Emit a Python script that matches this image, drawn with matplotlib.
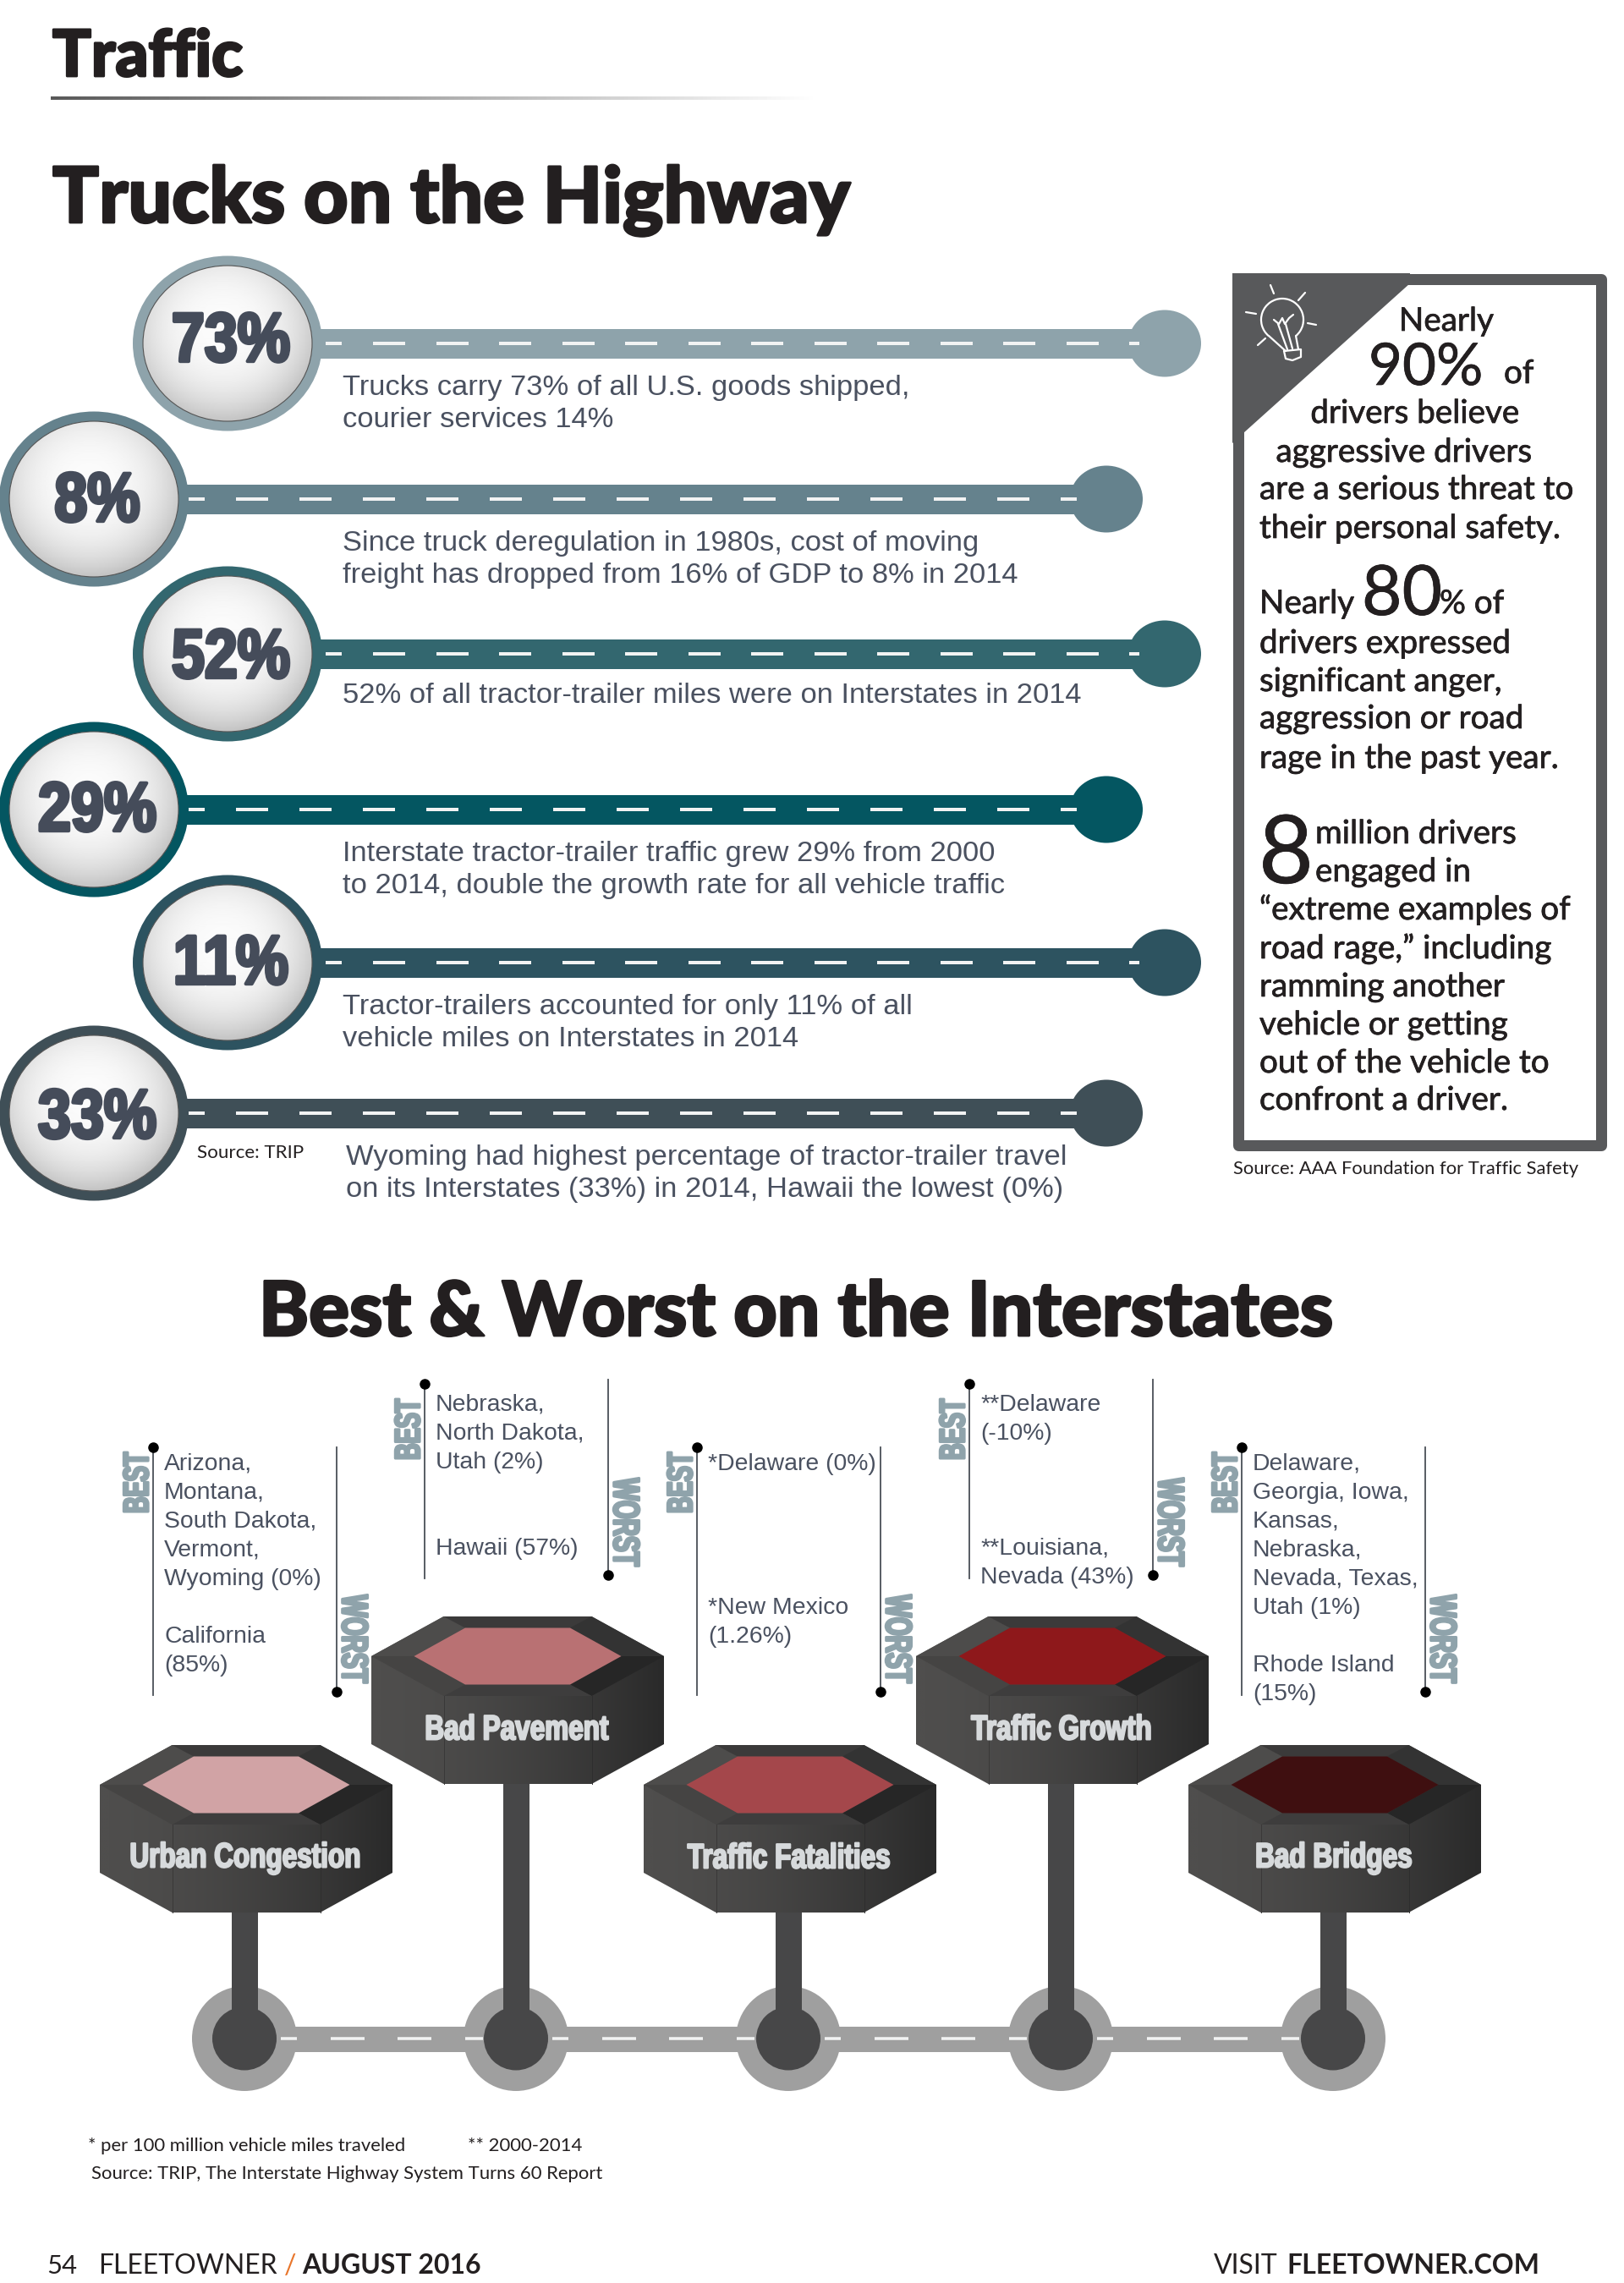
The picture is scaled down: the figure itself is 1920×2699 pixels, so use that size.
"""
    Trucks on the Highway / Best & Worst on the Interstates page
    Everything is laid out in page pixels, y down
"""

import numpy as np
import matplotlib
matplotlib.use('Agg')
import matplotlib.pyplot as plt
import matplotlib.patheffects as pe
from matplotlib.patches import Ellipse, Polygon, Rectangle, Arc
from matplotlib.transforms import Affine2D

ARIAL = 'Liberation Sans'
SIDE = 'Lato'
SLATE = '#4a5160'
STEEL = '#8fa3ab'
INK = '#231f20'

# top section
row_percents = ['73%', '8%', '52%', '29%', '11%', '33%']
row_colors = ['#8ea3ab', '#65828d', '#33676f', '#045661', '#2d5360', '#3f4f57']
row_notes = [
    ['Trucks carry 73% of all U.S. goods shipped,', 'courier services 14%'],
    ['Since truck deregulation in 1980s, cost of moving', 'freight has dropped from 16% of GDP to 8% in 2014'],
    ['52% of all tractor-trailer miles were on Interstates in 2014'],
    ['Interstate tractor-trailer traffic grew 29% from 2000', 'to 2014, double the growth rate for all vehicle traffic'],
    ['Tractor-trailers accounted for only 11% of all', 'vehicle miles on Interstates in 2014'],
    ['Wyoming had highest percentage of tractor-trailer travel', 'on its Interstates (33%) in 2014, Hawaii the lowest (0%)'],
]

# side panel
panel_lines_a = ['are a serious threat to', 'their personal safety.']
panel_lines_b = ['drivers expressed', 'significant anger,', 'aggression or road', 'rage in the past year.']
panel_lines_c = ['\u201cextreme examples of', 'road rage,\u201d including', 'ramming another',
                 'vehicle or getting', 'out of the vehicle to', 'confront a driver.']

# bottom section
hex_labels = ['Urban Congestion', 'Bad Pavement', 'Traffic Fatalities', 'Traffic Growth', 'Bad Bridges']
hex_colors = ['#d1a3a5', '#b97173', '#a4474b', '#8e181b', '#3f0f10']
state_notes = [
    ['Arizona,', 'Montana,', 'South Dakota,', 'Vermont,', 'Wyoming (0%)', '', 'California', '(85%)'],
    ['Nebraska,', 'North Dakota,', 'Utah (2%)', '', '', 'Hawaii (57%)'],
    ['*Delaware (0%)', '', '', '', '', '*New Mexico', '(1.26%)'],
    ['**Delaware', '(-10%)', '', '', '', '**Louisiana,', 'Nevada (43%)'],
    ['Delaware,', 'Georgia, Iowa,', 'Kansas,', 'Nebraska,', 'Nevada, Texas,', 'Utah (1%)', '', 'Rhode Island', '(15%)'],
]

# layout, page pixels
ROW_Y = [406, 590, 773, 957, 1138, 1316]
PCT_DY = [-1, 4, 6, 3, 3, 7]
HEX_X = [291, 612, 934, 1256, 1578]
HEX_Y = [2110, 1958, 2110, 1958, 2110]

fig = plt.figure(figsize=(19.2, 26.99), dpi=100, facecolor='white')
ax = fig.add_axes([0, 0, 1, 1])
ax.set_xlim(0, 1920)
ax.set_ylim(2699, 0)
ax.axis('off')


class Tall(pe.AbstractPathEffect):
    """Stretches a text tall about its middle and thickens it, there is no condensed heavy font here"""

    def __init__(self, sy, stroke, color):
        super().__init__()
        self.sy = sy
        self.stroke = stroke
        self.color = color

    def draw_path(self, renderer, gc, tpath, affine, rgbFace=None):
        ext = tpath.get_extents()
        mid = (ext.y0 + ext.y1) / 2
        local = Affine2D().translate(0, -mid).scale(1, self.sy).translate(0, mid)
        gc0 = renderer.new_gc()
        gc0.copy_properties(gc)
        gc0.set_foreground(self.color)
        gc0.set_linewidth(self.stroke)
        renderer.draw_path(gc0, tpath, local + affine, rgbFace)
        gc0.restore()


def label(x, y, s, px, family=ARIAL, color=SLATE, **kw):
    """y is the baseline unless va is passed, px is the em size in page pixels"""
    kw.setdefault('va', 'baseline')
    return ax.text(x, y, s, fontsize=px * 0.72, family=family, color=color, **kw)


def heavy(t, w, color):
    t.set_path_effects([pe.withStroke(linewidth=w, foreground=color)])


def tall(x, y, s, px, sy, stroke, color, **kw):
    t = label(x, y, s, px, color=color, weight='bold', ha='center', va='center', **kw)
    t.set_path_effects([Tall(sy, stroke, color)])
    return t


def grad_patch(patch, img, extent, cmap=None, z=2):
    ax.add_patch(patch)
    patch.set_zorder(z)
    im = ax.imshow(img, extent=extent, aspect='auto', zorder=z, cmap=cmap, vmin=0, vmax=1,
                   interpolation='bilinear')
    im.set_clip_path(patch)
    ax.set_xlim(0, 1920)
    ax.set_ylim(2699, 0)
    patch.set_facecolor('none')
    patch.set_edgecolor('none')


def lerp_cmap(c0, c1):
    return matplotlib.colors.LinearSegmentedColormap.from_list('g', [c0, c1])


def bubble(cx, cy, color, text, dy):
    ax.add_patch(Ellipse((cx, cy), 224, 207, fc=color, ec='none', zorder=3))
    rx, ry = 100, 92
    u, v = np.meshgrid(np.linspace(-1, 1, 200), np.linspace(-1, 1, 200))
    d = np.hypot(u + 0.05, (v + 0.2) * 0.95)
    img = 0.985 - 0.25 * np.clip(d / 1.2, 0, 1) ** 2.6
    e = Ellipse((cx, cy), 2 * rx, 2 * ry)
    grad_patch(e, img, (cx - rx, cx + rx, cy + ry, cy - ry), cmap='gray', z=4)
    ax.add_patch(Ellipse((cx, cy), 2 * rx, 2 * ry, fc='none', ec='#555555', lw=0.8, zorder=4))
    tall(cx + 4, cy + dy, text, 70, 1.17, 3, '#454c5a', zorder=5)


def road_dash(x0, x1, y, lw=4, z=2):
    ax.plot([x0, x1], [y, y], color='#f2f3f3', lw=lw * 0.72, solid_capstyle='butt', zorder=z)


# header
heavy(label(62, 90, 'Traffic', 76, family=SIDE, color=INK, weight='black'), 2, INK)
rule = Rectangle((60, 114), 908, 4)
grad_patch(rule, np.linspace(0.35, 1, 300).reshape(1, -1), (60, 968, 118, 114), cmap='gray')
heavy(label(62, 263, 'Trucks on the Highway', 91.2, family=SIDE, color=INK, weight='black'), 2, INK)

# road rows
for i, (pct, col, notes, y) in enumerate(zip(row_percents, row_colors, row_notes, ROW_Y)):
    odd = i % 2 == 0
    cx = 269 if odd else 111
    end = 1377 if odd else 1308
    ax.add_patch(Rectangle((cx, y - 17.5), end - cx, 35, fc=col, ec='none', zorder=1))
    ax.add_patch(Ellipse((end, y), 86, 79, fc=col, ec='none', zorder=1))
    if odd:
        road_dash(385, 404, y)
        starts = np.arange(441, 1300, 74.5)
    else:
        road_dash(222, 242, y)
        starts = np.arange(279, 1200, 75)
    for s in starts:
        road_dash(s, s + 38, y)
    road_dash(starts[-1] + 74.5, min(starts[-1] + 74.5 + 19, end - 30), y)
    bubble(cx, y, col, pct, PCT_DY[i])
    note_x = 409 if i == 5 else 405
    first = y + 50 + 11
    if i == 2:
        first = y + 47 + 11
    for k, line in enumerate(notes):
        label(note_x, first + 38 * k, line, 34.5)

label(233, 1369, 'Source: TRIP', 22.4, family=SIDE, color=INK)

# side panel
ax.add_patch(Rectangle((1463.5, 329.5), 429, 1024, fc='white', ec='#58595b', lw=13 * 0.72, zorder=1,
                       joinstyle='round'))
ax.add_patch(Polygon([(1457, 323), (1667, 323), (1667, 335), (1470, 512), (1457, 524)],
                     fc='#58595b', ec='none', zorder=2))

# light bulb
B = dict(color='white', lw=1.6, zorder=3, solid_capstyle='round')
ax.add_patch(Arc((1516, 378), 50, 50, theta1=130, theta2=50, ec='white', lw=1.6, zorder=3))
ax.plot([1500, 1520], [397, 415], **B)
ax.plot([1532, 1535], [397, 413], **B)
ax.plot([1518, 1538, 1538, 1528, 1520, 1518], [415, 413, 422, 426, 424, 415], **B)
ax.plot([1511, 1522], [383, 413], **B)
ax.plot([1520, 1528], [383, 412], **B)
ax.plot([1506, 1512, 1516, 1519, 1524, 1529], [378, 383, 376, 383, 376, 372], **B)
ax.plot([1502, 1506], [337, 347], **B)
ax.plot([1543, 1535], [346, 355], **B)
ax.plot([1473, 1485], [369, 371], **B)
ax.plot([1546, 1556], [382, 384], **B)
ax.plot([1487, 1496], [408, 400], **B)

PX = 38.6


def side(x, y, s, px=PX, **kw):
    t = label(x, y, s, px, family=SIDE, color=INK, zorder=3, **kw)
    heavy(t, 0.5, INK)
    return t


side(1710, 391, 'Nearly', ha='center')
side(1618, 455, '90%', 69)
side(1778, 453, 'of')
side(1673, 500, 'drivers believe', ha='center')
side(1660, 546, 'aggressive drivers', ha='center')
for line, y in zip(panel_lines_a, [590, 636]):
    side(1489, y, line)
side(1489, 725, 'Nearly')
side(1610, 727, '80', 82)
side(1702, 725, '% of')
for line, y in zip(panel_lines_b, [772, 817, 861, 908]):
    side(1489, y, line)
side(1488, 1044, '8', 112)
for line, y in zip(['million drivers', 'engaged in'], [997, 1042]):
    side(1555, y, line)
for line, y in zip(panel_lines_c, [1087, 1133, 1178, 1223, 1268, 1312]):
    side(1489, y, line)
label(1458, 1388, 'Source: AAA Foundation for Traffic Safety', 22, family=SIDE, color=INK)

# second title
heavy(label(306, 1579, 'Best & Worst on the Interstates', 89.2, family=SIDE, color=INK, weight='black'), 2, INK)

# bottom road
ax.add_patch(Rectangle((HEX_X[0] - 2, 2395.5), HEX_X[-1] - HEX_X[0], 30.5, fc='#9f9f9f', ec='none', zorder=1))
for cx in HEX_X:
    c = cx - 2
    ax.add_patch(Ellipse((c, 2410), 124, 124, fc='#9f9f9f', ec='none', zorder=1))
for cx in HEX_X[:-1]:
    c = cx - 2
    for a, b in [(43, 62), (102, 142), (181, 221), (261, 282)]:
        road_dash(c + a, c + b, 2410, lw=3.5, z=2)

# signs
for name, col, notes, cx, my in zip(hex_labels, hex_colors, state_notes, HEX_X, HEX_Y):
    c = cx - 2
    ax.add_patch(Rectangle((c - 15.5, my + 150), 31, 2380 - my - 150, fc='#474748', ec='none', zorder=2))
    ax.add_patch(Ellipse((c, 2410), 76, 75, fc='#474748', ec='none', zorder=3))

    HW, TW, IW, IT = 173, 87.5, 122.5, 62
    DY, IDY, H = 47, 33.5, 104
    sil = Polygon([(cx - HW, my), (cx - TW, my - DY), (cx + TW, my - DY), (cx + HW, my),
                   (cx + HW, my + H), (cx + TW, my + DY + H), (cx - TW, my + DY + H), (cx - HW, my + H)])
    grad_patch(sil, np.linspace(0, 1, 300).reshape(1, -1) ** 1.6, (cx - HW, cx + HW, my + 160, my - 60),
               cmap=lerp_cmap('#4f4e4d', '#2a2a2a'), z=4)
    # side face edges
    ax.plot([cx - TW, cx - TW], [my + DY, my + DY + H], color='#3a3838', lw=0.7, zorder=5)
    ax.plot([cx + TW, cx + TW], [my + DY, my + DY + H], color='#2e2e2e', lw=0.7, zorder=5)
    # top facets
    facets = [
        ([(-HW, 0), (-TW, -DY), (-IT, -IDY), (-IW, 0)], '#4d4c4b'),
        ([(-HW, 0), (-IW, 0), (-IT, IDY), (-TW, DY)], '#454443'),
        ([(-TW, -DY), (TW, -DY), (IT, -IDY), (-IT, -IDY)], '#3b3a3a'),
        ([(TW, -DY), (HW, 0), (IW, 0), (IT, -IDY)], '#333333'),
        ([(HW, 0), (TW, DY), (IT, IDY), (IW, 0)], '#262626'),
        ([(-TW, DY), (TW, DY), (IT, IDY), (-IT, IDY)], '#3e3d3d'),
    ]
    for pts, fc in facets:
        ax.add_patch(Polygon([(cx + px, my + py) for px, py in pts], fc=fc, ec='none', zorder=5))
    ax.add_patch(Polygon([(cx - IW, my), (cx - IT, my - IDY), (cx + IT, my - IDY), (cx + IW, my),
                          (cx + IT, my + IDY), (cx - IT, my + IDY)], fc=col, ec='none', zorder=6))
    tall(cx - 1, my + 87, name, 31.5, 1.3, 1.6, '#d7dadc', zorder=7)

    # best / worst brackets
    best_x, worst_x = cx - 110, cx + 107
    if my > 2000:
        top, bot, best_top, best_bot, worst_top, worst_bot, first = 1711, 2004, 1717, 1789, 1884, 1991, 1729
    else:
        top, bot, best_top, best_bot, worst_top, worst_bot, first = 1636, 1866, 1654, 1726, 1746, 1853, 1659
    ax.plot([best_x, best_x], [top, bot], color='#4a4f57', lw=1.3, zorder=2)
    ax.plot([worst_x, worst_x], [top - 5 if my < 2000 else top, bot - 3], color='#4a4f57', lw=1.3, zorder=2)
    ax.plot([best_x], [top], 'o', color='black', ms=8, zorder=3)
    ax.plot([worst_x], [bot - 4], 'o', color='black', ms=8, zorder=3)
    tall(best_x - 18, (best_top + best_bot) / 2, 'BEST', 27, 1.55, 2.2, STEEL, rotation=90)
    tall(worst_x + 19, (worst_top + worst_bot) / 2, 'WORST', 28, 1.55, 2.2, STEEL, rotation=270)
    for k, line in enumerate(notes):
        if line:
            label(best_x + 13, first + 34 * k + 8.5, line, 28.4)

# footer
label(104, 2543, '* per 100 million vehicle miles traveled', 22.2, family=SIDE, color=INK)
label(553, 2543, '** 2000-2014', 22.2, family=SIDE, color=INK)
label(108, 2576, 'Source: TRIP, The Interstate Highway System Turns 60 Report', 22.2, family=SIDE, color=INK)
label(55, 2688, '54', 31, family=SIDE, color=INK)
label(116, 2688, 'FLEETOWNER', 32, family=SIDE, color=INK)
label(336, 2688, '/', 32, family=SIDE, color='#e8762c')
label(357, 2688, 'AUGUST 2016', 32, family=SIDE, color=INK, weight='bold')
label(1435, 2688, 'VISIT', 32, family=SIDE, color=INK)
label(1521, 2688, 'FLEETOWNER.COM', 32, family=SIDE, color=INK, weight='bold')

fig.savefig('out.png', dpi=100, facecolor='white')
